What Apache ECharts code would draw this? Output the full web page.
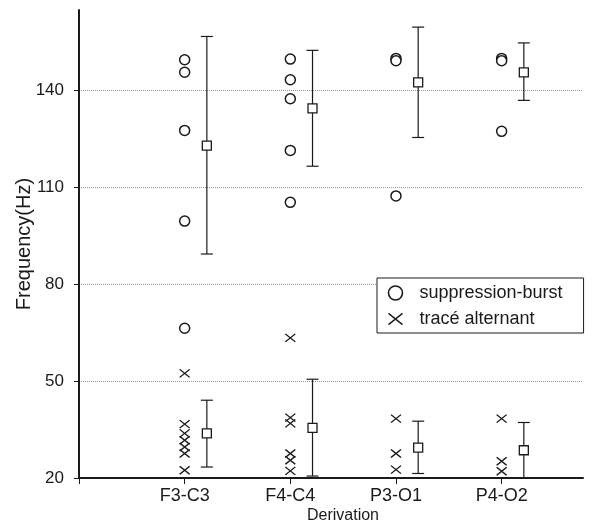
<!DOCTYPE html>
<html>
<head>
<meta charset="utf-8">
<script src="https://cdn.jsdelivr.net/npm/echarts@6/dist/echarts.min.js"></script>
<style>
  html, body { margin: 0; padding: 0; background: #fff; }
  #chart { width: 595px; height: 527px; }
</style>
</head>
<body>
<div id="chart"></div>
<script>
// categories on the x axis
var categories = ["F3-C3", "F4-C4", "P3-O1", "P4-O2"];
var yTicks = [20, 50, 80, 110, 140];

// individual values, one list per derivation
var sbPoints = [
  [149.6, 145.7, 127.7, 99.6, 66.4],
  [149.8, 143.4, 137.5, 121.5, 105.4],
  [150.0, 149.3, 107.4],
  [150.0, 149.3, 127.4]
];
var taPoints = [
  [52.4, 36.7, 33.8, 31.7, 29.6, 27.6, 22.4],
  [63.4, 38.7, 36.9, 27.6, 25.5, 22.2],
  [38.4, 27.6, 22.6],
  [38.4, 25.2, 22.1]
];

// mean and range (error bars)
var sbMean = [123.0, 134.5, 142.6, 145.7];
var sbLow = [89.4, 116.6, 125.5, 137.0];
var sbHigh = [156.8, 152.5, 159.7, 154.8];
var taMean = [33.8, 35.5, 29.4, 28.6];
var taLow = [23.4, 20.6, 21.4, 20.0];
var taHigh = [44.1, 50.6, 37.6, 37.2];

var meanOffset = 0.21;
var crossPath = "path://M0,0L10,8M10,0L0,8";
var ink = "#1a1a1a";

function toPoints(lists) {
  var out = [];
  lists.forEach(function (vals, i) {
    vals.forEach(function (v) { out.push([i + 1, v]); });
  });
  return out;
}

var barData = [];
var meanData = [];
categories.forEach(function (c, i) {
  barData.push([i + 1 + meanOffset, sbLow[i], sbHigh[i]]);
  barData.push([i + 1 + meanOffset, taLow[i], taHigh[i]]);
  meanData.push([i + 1 + meanOffset, sbMean[i]]);
  meanData.push([i + 1 + meanOffset, taMean[i]]);
});

var myChart = echarts.init(document.getElementById("chart"));
var option = {
  animation: false,
  textStyle: { fontFamily: "Liberation Sans, Arial, sans-serif", color: ink },
  grid: { left: 79, right: 12, top: 10, bottom: 49, outerBoundsMode: "none", containLabel: false },
  legend: {
    orient: "vertical",
    left: 377,
    top: 278,
    backgroundColor: "#fff",
    borderColor: ink,
    borderWidth: 1,
    borderRadius: 0,
    padding: [6, 21, 5, 9],
    itemGap: 8,
    itemWidth: 14,
    itemHeight: 14,
    textStyle: { fontSize: 18, color: ink, padding: [0, 0, 0, 12] },
    data: [
      { name: "suppression-burst", icon: "circle",
        itemStyle: { color: "#fff", borderColor: ink, borderWidth: 1.6 } },
      { name: "tracé alternant", icon: crossPath,
        itemStyle: { color: "none", borderColor: ink, borderWidth: 1.4 } }
    ]
  },
  xAxis: {
    type: "value",
    min: 0,
    max: 4.77,
    interval: 1,
    name: "Derivation",
    nameLocation: "middle",
    nameGap: 30,
    nameMoveOverlap: false,
    nameTextStyle: { fontSize: 16, color: ink, padding: [0, 0, 0, 24] },
    axisLine: { show: true, lineStyle: { color: ink, width: 2 } },
    axisTick: { show: true, length: 6, customValues: [0, 1, 2, 3, 4], lineStyle: { color: ink } },
    axisLabel: {
      fontSize: 18, color: ink, margin: 9,
      customValues: [1, 2, 3, 4],
      formatter: function (v) { return categories[Math.round(v) - 1] || ""; }
    },
    splitLine: { show: false }
  },
  yAxis: {
    type: "value",
    min: 20,
    max: 165,
    interval: 30,
    name: "Frequency(Hz)",
    nameLocation: "middle",
    nameGap: 45,
    nameMoveOverlap: false,
    nameTextStyle: { fontSize: 20, color: ink },
    axisLine: { show: true, lineStyle: { color: ink, width: 2 } },
    axisTick: { show: true, length: 5, customValues: yTicks, lineStyle: { color: ink } },
    axisLabel: { fontSize: 17, color: ink, margin: 15, customValues: yTicks },
    splitLine: {
      show: true, showMinLine: false, showMaxLine: true,
      lineStyle: { color: "#9a9a9a", type: "dotted", width: 1 }
    }
  },
  series: [
    {
      name: "suppression-burst",
      type: "scatter",
      symbol: "circle",
      symbolSize: 10,
      itemStyle: { color: "#fff", borderColor: ink, borderWidth: 1.5, opacity: 1 },
      data: toPoints(sbPoints),
      z: 3
    },
    {
      name: "tracé alternant",
      type: "scatter",
      symbol: crossPath,
      symbolSize: [10, 8],
      itemStyle: { color: "none", borderColor: ink, borderWidth: 1.3, opacity: 1 },
      data: toPoints(taPoints),
      z: 3
    },
    {
      name: "range",
      type: "custom",
      data: barData,
      z: 2,
      renderItem: function (params, api) {
        var lo = api.coord([api.value(0), api.value(1)]);
        var hi = api.coord([api.value(0), api.value(2)]);
        var w = 6;
        var st = { stroke: ink, lineWidth: 1.2 };
        return {
          type: "group",
          children: [
            { type: "line", shape: { x1: lo[0], y1: lo[1], x2: hi[0], y2: hi[1] }, style: st },
            { type: "line", shape: { x1: lo[0] - w, y1: lo[1], x2: lo[0] + w, y2: lo[1] }, style: st },
            { type: "line", shape: { x1: hi[0] - w, y1: hi[1], x2: hi[0] + w, y2: hi[1] }, style: st }
          ]
        };
      }
    },
    {
      name: "mean",
      type: "scatter",
      symbol: "rect",
      symbolSize: 9,
      itemStyle: { color: "#fff", borderColor: ink, borderWidth: 1.3, opacity: 1 },
      data: meanData,
      z: 4
    }
  ]
};
window.addEventListener("resize", function () {
  myChart.resize();
});
myChart.setOption(option);
</script>
</body>
</html>
